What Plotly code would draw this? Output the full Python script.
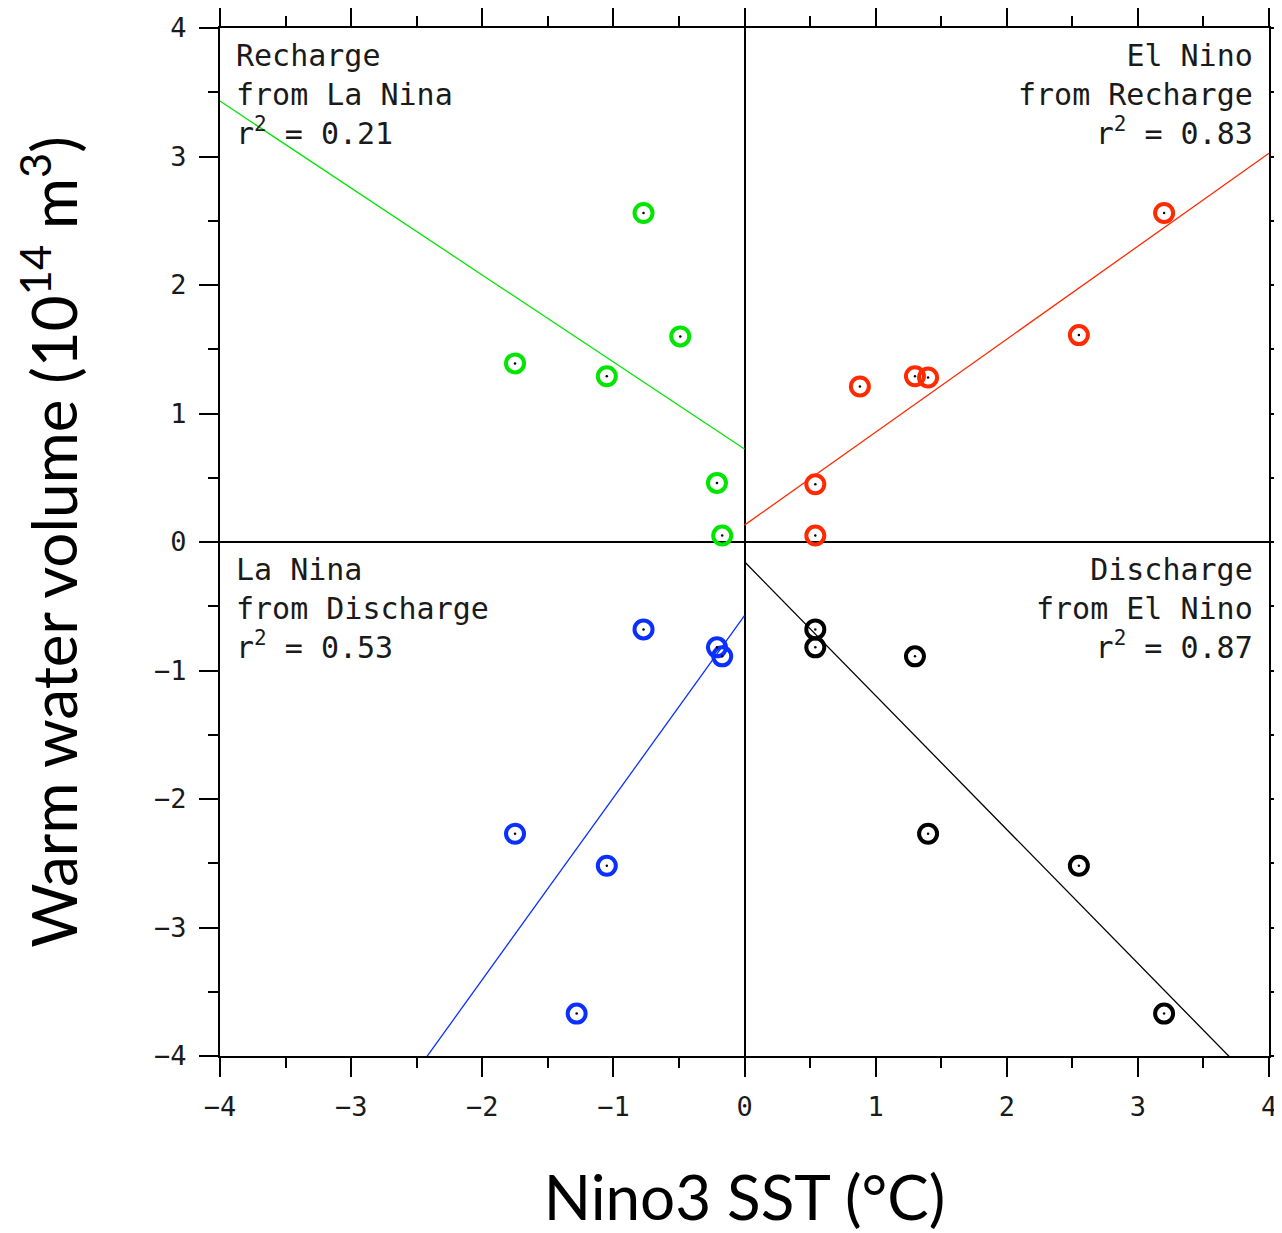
import numpy as np
import plotly.graph_objects as go

# ---- data ----
recharge_x = [-0.77, -0.49, -1.75, -1.05, -0.21, -0.17]
recharge_y = [2.56, 1.60, 1.39, 1.29, 0.46, 0.05]

elnino_x = [3.20, 2.55, 0.88, 1.30, 1.40, 0.54, 0.54]
elnino_y = [2.56, 1.61, 1.21, 1.29, 1.28, 0.45, 0.05]

lanina_x = [-0.77, -0.21, -0.17, -1.75, -1.05, -1.28]
lanina_y = [-0.68, -0.82, -0.89, -2.27, -2.52, -3.67]

discharge_x = [0.54, 0.54, 1.30, 1.40, 2.55, 3.20]
discharge_y = [-0.68, -0.82, -0.89, -2.27, -2.52, -3.67]

r2_labels = ["0.21", "0.83", "0.53", "0.87"]
tick_vals = [-4, -3, -2, -1, 0, 1, 2, 3, 4]
tick_text = ["\u22124", "\u22123", "\u22122", "\u22121", "0", "1", "2", "3", "4"]

GREEN = "#00e600"
RED = "#ff2a00"
BLUE = "#0a30ff"
BLACK = "#000000"

fig = go.Figure()


def add_group(xs, ys, color, x0, x1):
    xs = np.asarray(xs)
    ys = np.asarray(ys)
    m, b = np.polyfit(xs, ys, 1)
    lx = np.array([x0, x1])
    fig.add_trace(go.Scatter(x=lx, y=m * lx + b, mode="lines",
                             line=dict(color=color, width=1.3),
                             hoverinfo="skip", showlegend=False))
    fig.add_trace(go.Scatter(x=xs, y=ys, mode="markers",
                             marker=dict(symbol="circle-open", size=18,
                                         color=color, line=dict(width=4, color=color)),
                             showlegend=False))
    fig.add_trace(go.Scatter(x=xs, y=ys, mode="markers",
                             marker=dict(symbol="circle", size=2.5, color="black"),
                             hoverinfo="skip", showlegend=False))
    return m, b


add_group(recharge_x, recharge_y, GREEN, -4, 0)
add_group(elnino_x, elnino_y, RED, 0, 4)
m, b = np.polyfit(lanina_x, lanina_y, 1)
add_group(lanina_x, lanina_y, BLUE, (-4.1 - b) / m, 0)
m, b = np.polyfit(discharge_x, discharge_y, 1)
add_group(discharge_x, discharge_y, BLACK, 0, (-4.1 - b) / m)

ann_font = dict(family="DejaVu Sans Mono", size=30, color="#1a1a1a")
anns = [
    (-3.89, 3.94, "left", "Recharge<br>from La Nina<br>r<sup>2</sup> = " + r2_labels[0]),
    (3.89, 3.94, "right", "El Nino<br>from Recharge<br>r<sup>2</sup> = " + r2_labels[1]),
    (-3.89, -0.06, "left", "La Nina<br>from Discharge<br>r<sup>2</sup> = " + r2_labels[2]),
    (3.89, -0.06, "right", "Discharge<br>from El Nino<br>r<sup>2</sup> = " + r2_labels[3]),
]
for x, y, align, text in anns:
    fig.add_annotation(x=x, y=y, xref="x", yref="y", text=text, showarrow=False,
                       xanchor=align, yanchor="top", align=align, font=ann_font)

axis_common = dict(
    range=[-4, 4], tickvals=tick_vals, ticktext=tick_text,
    showline=True, linecolor="black", linewidth=2, mirror="ticks",
    ticks="outside", ticklen=19, tickwidth=2, tickcolor="black",
    minor=dict(dtick=0.5, ticks="outside", ticklen=10, tickwidth=2, tickcolor="black"),
    showgrid=False, zeroline=True, zerolinecolor="black", zerolinewidth=2,
    tickfont=dict(family="DejaVu Sans Mono", size=27, color="#1a1a1a"),
    automargin=False,
)

fig.update_xaxes(**axis_common,
                 title=dict(text="Nino3 SST (°C)",
                            font=dict(family="Lato", size=62, color="black"),
                            standoff=55),
                 ticklabelstandoff=7)
fig.update_yaxes(**axis_common,
                 title=dict(text="Warm water volume (10<sup>14</sup> m<sup>3</sup>)",
                            font=dict(family="Lato", size=62, color="black"),
                            standoff=58),
                 ticklabelstandoff=7)

# the page body adds an 8px offset; size/margins compensate so the plot area
# lands at the same screen position as in the reference
fig.update_layout(
    width=1274, height=1225,
    margin=dict(l=212, r=13, t=20, b=177),
    plot_bgcolor="white", paper_bgcolor="white",
    showlegend=False,
)

fig.write_html("out.html")
